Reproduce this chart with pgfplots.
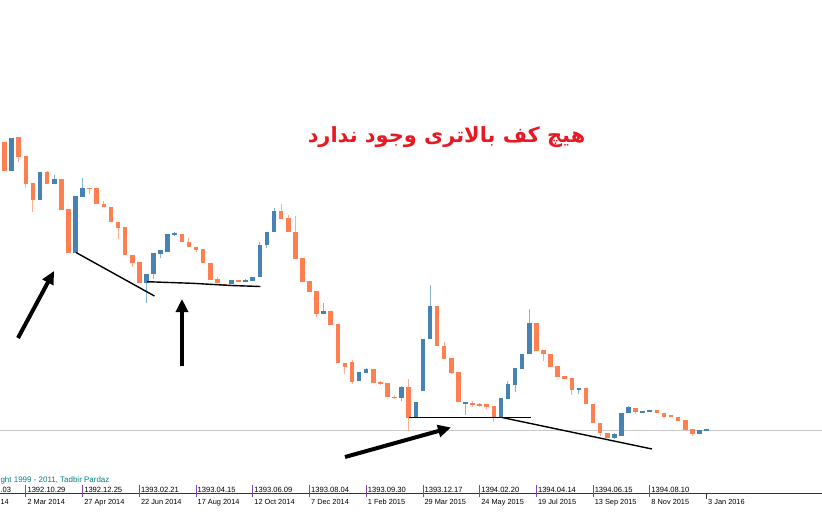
\documentclass[border=0pt]{standalone}
\usepackage{fontspec}
\setmainfont{Liberation Sans}
\newfontfamily\arabicfont[Script=Arabic]{DejaVu Sans}
\TeXXeTstate=1
\usepackage{pgfplots}
\pgfplotsset{compat=1.18}
\usepackage{pgfplotstable}
\usetikzlibrary{arrows.meta}

\definecolor{bearc}{RGB}{255,127,80}
\definecolor{bullc}{RGB}{70,130,180}
\definecolor{bearw}{RGB}{255,175,145}
\definecolor{bullw}{RGB}{140,180,215}
\definecolor{titlered}{RGB}{232,25,35}
\definecolor{copyc}{RGB}{0,128,128}
\definecolor{tickp}{RGB}{130,70,170}
\definecolor{lvl}{RGB}{200,200,200}

% weekly candles, x = week number, y = screen level (top down)
% bt/bb = body top/bottom, wt/wb = wick top/bottom
\pgfplotstableread{
i   bt    bb    wt    wb
1   142   171   142   171
3   136.7 156.7 136.7 162
4   156   184   156   187.7
5   183.3 200   183.3 211.7
7   171.7 184   170.7 184
9   179.3 210   179.3 210
10  209.3 252.7 209.3 252.7
13  187.7 189   187.7 194
14  188.3 204.3 188.3 204.3
15  204.3 207.3 201   207.3
16  206.7 222.3 206.7 222.3
17  222.3 227.7 222.3 239
18  227   255   227   255
19  255   263   255   267
20  262.3 282.7 262.3 282.7
26  234   242.3 234   242.3
27  241.7 247.3 238.3 247.3
28  246.7 250   246.7 251.7
29  249.3 262.7 249.3 262.7
30  262.7 280   262.7 280
31  279.3 283.3 277.3 283.3
32  283.7 285   283.7 285
34  280   281.3 280   281.3
40  211   218.7 204.3 218.7
41  218.3 232   215   232
42  231.7 258.7 215.7 258.7
43  258.3 281.7 258.3 281.7
44  281   291.7 281   291.7
45  291   313.7 291   316.7
47  310.7 324.7 310.7 324.7
48  324   363.3 324   363.3
49  362.7 366.7 362.7 374.3
50  361.7 381.7 359.7 383.7
53  369   383.3 369   383.3
54  382   383.3 380.7 385.3
55  383.3 396.7 383.3 396.7
56  396.7 398   395.3 399.3
58  387   418   379   431
62  305.7 345.7 305.7 345.7
63  345.7 359   342.3 359
64  358.3 372.7 358.3 374.3
65  371.7 401.7 371.7 401.7
67  402.7 405.3 400.7 406.7
68  404   405.3 402.7 407.3
69  404.3 407.3 404.3 408.7
70  406   416.7 406   422
76  323.3 351   323.3 351
77  350   354.3 350   360.7
78  354   367.3 354   367.3
79  366   376.7 366   376.7
80  376   378.7 376   378.7
81  378.3 390   378.3 395
83  388.3 404.3 388.3 404.3
84  404   423.3 404   423.3
85  422.7 433.3 422.7 436
86  432.7 437.7 432.7 437.7
90  407.7 412.3 407.7 414
93  409.7 413.3 409.7 413.3
94  412.7 416.7 412.7 416.7
95  415.3 417.3 415.3 417.3
96  416.7 420.7 416.7 420.7
97  420   430   420   430
98  429.3 434   429.3 436
}\bear

\pgfplotstableread{
i   bt    bb    wt    wb
2   137.7 171   137.7 171
6   171.7 200   171.7 200
8   179.3 184   175   184
11  196   252.7 196   252.7
12  188.3 196.7 178.3 196.7
21  274   282.7 274   303.3
22  253.3 274   253.3 279.3
23  250   254.3 250   258.3
24  234   251.7 234   251.7
25  233   234.3 231.7 235.7
33  280   284   280   284
35  279.7 281.3 278.5 281.3
36  276.7 280.7 276.7 280.7
37  245   277.3 242.3 277.3
38  231.7 245.3 231.7 248.3
39  211   232   208.3 232
46  310.7 313.7 303.3 313.7
51  372.3 381   372.3 381
52  369   373.3 367.7 373.3
57  387   398.3 385.7 401
59  402   417.7 402   417.7
60  339   391   339   391
61  305.7 339.3 285   339.3
66  402.3 403.3 402.3 415.3
71  397.7 416.7 397.7 416.7
72  384   399   381.3 399
73  368.3 385   368.3 391.7
74  354.3 369.3 354.3 369.3
75  323.3 354.3 309.3 354.3
82  388.3 390   388.3 394
87  434.3 437.7 433.3 439.3
88  413.3 435.7 413.3 435.7
89  407.3 413.3 406   413.3
91  410.7 412.3 410.7 413.3
92  410   411.3 410   411.3
99  430   434.3 430   434.3
100 429.5 430.5 429.5 430.5
}\bull

\pgfplotsset{
  wick/.style={draw=none, no markers, forget plot,
    error bars/.cd, y dir=both, y explicit, error mark=none,
    error bar style={draw=#1, line width=1bp}},
  body/.style={draw=none, no markers, forget plot,
    error bars/.cd, y dir=both, y explicit, error mark=none,
    error bar style={draw=#1, line width=4.6bp}},
}

\begin{document}
\begin{tikzpicture}
\begin{axis}[
    at={(0,0)}, anchor=south west,
    scale only axis, width=822bp, height=512bp,
    xmin=0.351, xmax=116.29, ymin=0, ymax=512,
    y dir=reverse, hide axis, clip=false,
]
% current price level
\draw[lvl, line width=0.8bp] (axis cs:0.351,430.8) -- (axis cs:116.29,430.8);

\addplot[wick=bearw] table[x=i, y expr={(\thisrow{wt}+\thisrow{wb})/2},
    y error expr={max((\thisrow{wb}-\thisrow{wt})/2,0.5)}] {\bear};
\addplot[wick=bullw] table[x=i, y expr={(\thisrow{wt}+\thisrow{wb})/2},
    y error expr={max((\thisrow{wb}-\thisrow{wt})/2,0.5)}] {\bull};
\addplot[body=bearc] table[x=i, y expr={(\thisrow{bt}+\thisrow{bb})/2},
    y error expr={max((\thisrow{bb}-\thisrow{bt})/2,0.8)}] {\bear};
\addplot[body=bullc] table[x=i, y expr={(\thisrow{bt}+\thisrow{bb})/2},
    y error expr={max((\thisrow{bb}-\thisrow{bt})/2,0.8)}] {\bull};

% trend lines
\draw[black, line width=1.4bp] (axis cs:11.07,252.5) -- (axis cs:22.14,296);
\draw[black, line width=1.4bp] (axis cs:21.08,281.7) -- (axis cs:27.5,283.3) -- (axis cs:33,285.5) -- (axis cs:37.09,286.5);
\draw[black, line width=1.4bp] (axis cs:58.04,417.5) -- (axis cs:75.25,417.5);
\draw[black, line width=1.4bp] (axis cs:71.16,417.5) -- (axis cs:92.31,449);

% arrows
\draw[black, line width=4bp, -{Triangle[length=13bp,width=12bp]}] (axis cs:2.89,338) -- (axis cs:7.97,271);
\draw[black, line width=4bp, -{Triangle[length=13bp,width=12bp]}] (axis cs:26.02,366) -- (axis cs:26.02,299);
\draw[black, line width=4bp, -{Triangle[length=13bp,width=12bp]}] (axis cs:49.01,457) -- (axis cs:63.96,427.5);

% title
\node[text=titlered, inner sep=0pt] at (axis cs:63.33,137)
  {\arabicfont\bfseries\fontsize{21}{24}\selectfont\beginR هیچ کف بالاتری وجود ندارد\endR};

% copyright (cut at the left edge, as in the source)
\node[text=copyc, anchor=base west, inner sep=0pt] at (axis cs:0.4,482)
  {\fontsize{8}{9}\selectfont ght 1999 - 2011, Tadbir Pardaz};

% time axis
\draw[black!80, line width=0.8bp] (axis cs:0.351,493.3) -- (axis cs:116.29,493.3);
\draw[black!80, line width=0.8bp] (axis cs:100,493.3) -- (axis cs:100,498.5);
\draw[tickp, line width=0.8bp]
  (axis cs:4,485) -- (axis cs:4,497)
  (axis cs:12,485) -- (axis cs:12,497)
  (axis cs:20,485) -- (axis cs:20,497)
  (axis cs:28,485) -- (axis cs:28,497)
  (axis cs:36,485) -- (axis cs:36,497)
  (axis cs:44,485) -- (axis cs:44,497)
  (axis cs:52,485) -- (axis cs:52,497)
  (axis cs:60,485) -- (axis cs:60,497)
  (axis cs:68,485) -- (axis cs:68,497)
  (axis cs:76,485) -- (axis cs:76,497)
  (axis cs:84,485) -- (axis cs:84,497)
  (axis cs:92,485) -- (axis cs:92,497);

\begin{scope}[every node/.style={inner sep=0pt, anchor=base west, xshift=1.5bp,
    font=\fontsize{7.6}{8}\selectfont}]
\node[xshift=-1.5bp] at (axis cs:0.4,492) {.03};
\node at (axis cs:4,492) {1392.10.29};
\node at (axis cs:12,492) {1392.12.25};
\node at (axis cs:20,492) {1393.02.21};
\node at (axis cs:28,492) {1393.04.15};
\node at (axis cs:36,492) {1393.06.09};
\node at (axis cs:44,492) {1393.08.04};
\node at (axis cs:52,492) {1393.09.30};
\node at (axis cs:60,492) {1393.12.17};
\node at (axis cs:68,492) {1394.02.20};
\node at (axis cs:76,492) {1394.04.14};
\node at (axis cs:84,492) {1394.06.15};
\node at (axis cs:92,492) {1394.08.10};
\end{scope}
\begin{scope}[every node/.style={inner sep=0pt, anchor=base west, xshift=1.5bp,
    font=\fontsize{7.4}{8}\selectfont}]
\node[xshift=-1.5bp] at (axis cs:0.4,504.5) {14};
\node at (axis cs:4,504.5) {2 Mar 2014};
\node at (axis cs:12,504.5) {27 Apr 2014};
\node at (axis cs:20,504.5) {22 Jun 2014};
\node at (axis cs:28,504.5) {17 Aug 2014};
\node at (axis cs:36,504.5) {12 Oct 2014};
\node at (axis cs:44,504.5) {7 Dec 2014};
\node at (axis cs:52,504.5) {1 Feb 2015};
\node at (axis cs:60,504.5) {29 Mar 2015};
\node at (axis cs:68,504.5) {24 May 2015};
\node at (axis cs:76,504.5) {19 Jul 2015};
\node at (axis cs:84,504.5) {13 Sep 2015};
\node at (axis cs:92,504.5) {8 Nov 2015};
\node at (axis cs:100,504.5) {3 Jan 2016};
\end{scope}
\end{axis}
\pgfresetboundingbox
\path[use as bounding box] (0,0) rectangle (822bp,512bp);
\end{tikzpicture}
\end{document}
